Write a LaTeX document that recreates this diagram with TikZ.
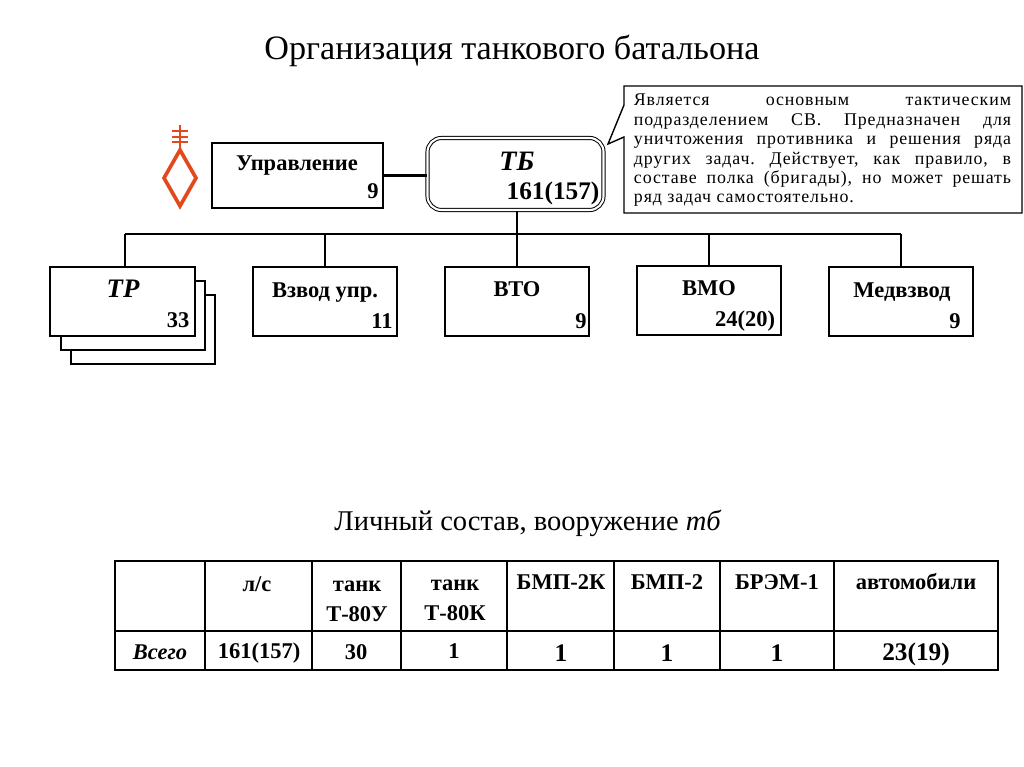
\documentclass[tikz,border=0pt]{standalone}
\usepackage{fontspec}
\setmainfont{Liberation Serif}
\usepackage{tikz}
\definecolor{symred}{RGB}{226,74,30}
\tikzset{
  unitbox/.style={draw,line width=1.4pt,fill=white,minimum width=3.6cm,minimum height=1.725cm,inner sep=0pt},
  boldtext/.style={inner sep=0pt,font=\fontsize{16}{18}\selectfont\bfseries},
  bigtext/.style={inner sep=0pt,font=\fontsize{18}{20}\selectfont\bfseries},
  unittitle/.style={inner sep=0pt,font=\fontsize{19}{22}\selectfont\bfseries\itshape},
  rule/.style={line width=1.5pt},
  gridline/.style={line width=1.1pt}
}
\begin{document}
\frenchspacing
\begin{tikzpicture}[x=0.025cm,y=-0.025cm]
  \useasboundingbox (0,0) rectangle (1024,767);
  % titles
  \node (title) [inner sep=0pt,font=\fontsize{24.3}{28}\selectfont] at (512,51) {Организация танкового батальона};
  \node (subtitle) [inner sep=0pt,font=\fontsize{20.3}{24}\selectfont] at (528,523) {Личный состав, вооружение \textit{тб}};
  % upper row
  \node (upr) [unitbox,minimum width=4.275cm,minimum height=1.625cm] at (297.5,175.5) {};
  \node (tb) [draw,line width=0.7pt,double,double distance=1.5pt,rounded corners=0.35cm,minimum width=4.4cm,minimum height=1.8cm,inner sep=0pt] at (515.5,174) {};
  \draw[rule] (upr) -- (upr -| tb.west);
  \node (uprname) [boldtext] at (297,166) {Управление};
  \node (uprnum) [boldtext] at (373,191) {9};
  \node (tbname) [unittitle,font=\fontsize{20}{22}\selectfont\bfseries\itshape] at (517,161) {ТБ};
  \node (tbnum) [bigtext] at (553,193) {161(157)};
  % symbol
  \draw[symred,line width=1.4pt] (180,125) -- (180,148);
  \draw[symred,line width=1.4pt] (172,131) -- (188,131);
  \draw[symred,line width=1.4pt] (172,137) -- (188,137);
  \draw[symred,line width=1.4pt] (172,142) -- (188,142);
  \draw[symred,line width=2.6pt] (180,150) -- (196,178) -- (180,206) -- (164,178) -- cycle;
  % note
  \draw[line width=1pt,fill=white] (624,86) -- (1022,86) -- (1022,213) -- (624,213) -- (624,137) -- (608,144) -- (624,105) -- cycle;
  \node (note) [inner sep=0pt,text width=9.425cm,align=justify,font=\fontsize{12.7}{13.8}\selectfont\addfontfeature{LetterSpace=5}] at (822.5,150.5) {Является основным тактическим\linebreak подразделением СВ. Предназначен для\linebreak уничтожения противника и решения ряда\linebreak других задач. Действует, как правило, в\linebreak составе полка (бригады), но может решать\linebreak ряд задач самостоятельно.};
  % lower row
  \coordinate (busl) at (125,234);
  \coordinate (busr) at (901,234);
  \node (tr3) [unitbox] at (143,329.5) {};
  \node (tr2) [unitbox] at (133,315.5) {};
  \node (tr) [unitbox] at (122.5,301.5) {};
  \node (vzv) [unitbox] at (325,301.5) {};
  \node (vto) [unitbox] at (517,301.5) {};
  \node (vmo) [unitbox] at (709,300.5) {};
  \node (med) [unitbox] at (901,301.5) {};
  \draw[rule] (busl) -- (busr);
  \draw[rule] (busl) -- (busl |- tr.north);
  \draw[rule] (vzv.north |- busl) -- (vzv.north);
  \draw[rule] (vto.north |- tb.south) -- (vto.north);
  \draw[rule] (vmo.north |- busl) -- (vmo.north);
  \draw[rule] (busr) -- (med.north);
  \node (trname) [unittitle] at (123,289) {ТР};
  \node (trnum) [boldtext] at (178,320) {33};
  \node (vzvname) [boldtext] at (325,293) {Взвод упр.};
  \node (vzvnum) [boldtext] at (382,321) {11};
  \node (vtoname) [boldtext] at (517,289) {ВТО};
  \node (vtonum) [boldtext] at (581,321) {9};
  \node (vmoname) [boldtext] at (709,288) {ВМО};
  \node (vmonum) [boldtext] at (745,321) {24(20)};
  \node (medname) [boldtext] at (902,292) {Медвзвод};
  \node (mednum) [boldtext] at (955,321) {9};
  % table
  \draw[gridline] (115,561) rectangle (998,670);
  \draw[gridline] (115,631) -- (998,631);
  \draw[gridline] (205,561) -- (205,670);
  \draw[gridline] (312,561) -- (312,670);
  \draw[gridline] (401,561) -- (401,670);
  \draw[gridline] (507,561) -- (507,670);
  \draw[gridline] (614,561) -- (614,670);
  \draw[gridline] (720,561) -- (720,670);
  \draw[gridline] (834,561) -- (834,670);
  \node (hls) [boldtext] at (257,584) {л/с};
  \node (hu) [boldtext,align=center,font=\fontsize{16}{21.5}\selectfont\bfseries] at (357,601) {танк\\Т-80У};
  \node (hk) [boldtext,align=center,font=\fontsize{16}{21.5}\selectfont\bfseries] at (455,600) {танк\\Т-80К};
  \node (hbmpk) [boldtext] at (561,582) {БМП-2К};
  \node (hbmp) [boldtext] at (667,582) {БМП-2};
  \node (hbrem) [boldtext] at (777,582) {БРЭМ-1};
  \node (hauto) [boldtext] at (916,582) {автомобили};
  \node (vall) [boldtext,font=\fontsize{16}{18}\selectfont\bfseries\itshape] at (160,652) {Всего};
  \node (vls) [boldtext] at (259,653) {161(157)};
  \node (vu) [boldtext] at (356,652) {30};
  \node (vk) [boldtext] at (454,651) {1};
  \node (vbmpk) [bigtext] at (561,653) {1};
  \node (vbmp) [bigtext] at (667,653) {1};
  \node (vbrem) [bigtext] at (777,653) {1};
  \node (vauto) [bigtext] at (916,654) {23(19)};
\end{tikzpicture}
\end{document}
